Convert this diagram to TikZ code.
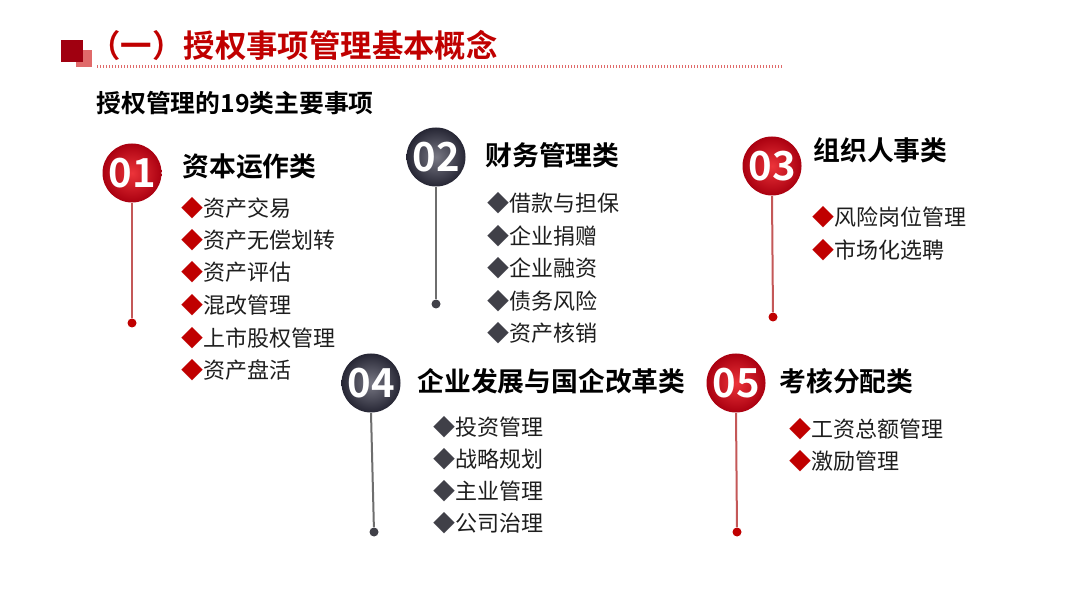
\documentclass[tikz,border=0pt]{standalone}
\usepackage{fontspec}
\setmainfont{Noto Sans CJK SC}
\newfontfamily\cjkb{Noto Sans CJK SC Bold}
\usetikzlibrary{positioning}
\definecolor{tred}{HTML}{C00000}
\definecolor{dred}{HTML}{A00010}
\definecolor{pinkr}{HTML}{E06A6A}
\definecolor{redline}{HTML}{C45858}
\definecolor{grayline}{HTML}{6E6E6E}
\definecolor{darkdot}{HTML}{404048}
\definecolor{itemtxt}{HTML}{1E1E1E}
\tikzset{
  redball/.style={circle,minimum size=29.5pt,inner sep=0pt,inner color={rgb,255:red,236;green,52;blue,58},outer color={rgb,255:red,170;green,0;blue,16},text=white,font=\cjkb\fontsize{20}{20}\selectfont},
  darkball/.style={circle,minimum size=29.5pt,inner sep=0pt,inner color={rgb,255:red,120;green,120;blue,132},outer color={rgb,255:red,38;green,38;blue,52},text=white,font=\cjkb\fontsize{20}{20}\selectfont},
  cattitle/.style={anchor=west,inner sep=0pt,font=\cjkb\fontsize{13.4}{14}\selectfont,text=black},
  itemr/.style={anchor=west,inner sep=0pt,font=\fontsize{11}{12}\selectfont,text=itemtxt},
  reddot/.style={circle,fill=tred,inner sep=0pt,minimum size=4.5pt},
  darkdotst/.style={circle,fill=darkdot,inner sep=0pt,minimum size=4.5pt},
  redstem/.style={draw=redline,line width=1pt},
  graystem/.style={draw=grayline,line width=1pt},
}
\newcommand{\ritem}[1]{\textcolor{tred}{◆}#1}
\newcommand{\gitem}[1]{\textcolor{darkdot}{◆}#1}
\begin{document}
\begin{tikzpicture}[x=0.5pt,y=-0.5pt]
\useasboundingbox (0,0) rectangle (1080,608);
\fill[white] (0,0) rectangle (1080,608);
% header icon
\fill[pinkr] (76,50) rectangle (92,67);
\fill[dred] (61,40) rectangle (83,62);
\node[anchor=west,inner sep=0pt,text=tred,font=\cjkb\fontsize{15.7}{16}\selectfont] (title) at (89,45) {（一）授权事项管理基本概念};
\draw[pinkr,line width=1.2pt,dash pattern=on 0.6pt off 0.9pt] (97,66.5) -- (783,66.5);
\node[anchor=west,inner sep=0pt,text=black,font=\cjkb\fontsize{12.4}{13}\selectfont] (sub) at (96,103) {授权管理的19类主要事项};

% 01
\node[redball] (c1) at (132,173) {01};
\node[reddot] (d1) at (132,323) {};
\draw[redstem] (c1.south) -- (d1);
\node[cattitle] (t1) at (182,166) {资本运作类};
\node[itemr] (i11) at (181,208) {\ritem{资产交易}};
\node[itemr] (i12) at (181,240) {\ritem{资产无偿划转}};
\node[itemr] (i13) at (181,272) {\ritem{资产评估}};
\node[itemr] (i14) at (181,305) {\ritem{混改管理}};
\node[itemr] (i15) at (181,338) {\ritem{上市股权管理}};
\node[itemr] (i16) at (181,370) {\ritem{资产盘活}};

% 02
\node[darkball] (c2) at (436,157) {02};
\node[darkdotst] (d2) at (436,304) {};
\draw[graystem] (c2.south) -- (d2);
\node[cattitle] (t2) at (485,155) {财务管理类};
\node[itemr] (i21) at (487,203) {\gitem{借款与担保}};
\node[itemr] (i22) at (487,236) {\gitem{企业捐赠}};
\node[itemr] (i23) at (487,268) {\gitem{企业融资}};
\node[itemr] (i24) at (487,301) {\gitem{债务风险}};
\node[itemr] (i25) at (487,333) {\gitem{资产核销}};

% 03
\node[redball] (c3) at (772,166) {03};
\node[reddot] (d3) at (773,317) {};
\draw[redstem] (c3.south) -- (d3);
\node[cattitle] (t3) at (813,150) {组织人事类};
\node[itemr] (i31) at (812,217) {\ritem{风险岗位管理}};
\node[itemr] (i32) at (812,250) {\ritem{市场化选聘}};

% 04
\node[darkball] (c4) at (371,383) {04};
\node[darkdotst] (d4) at (374,532) {};
\draw[graystem] (c4.south) -- (d4);
\node[cattitle] (t4) at (417,381) {企业发展与国企改革类};
\node[itemr] (i41) at (433,427) {\gitem{投资管理}};
\node[itemr] (i42) at (433,459) {\gitem{战略规划}};
\node[itemr] (i43) at (433,491) {\gitem{主业管理}};
\node[itemr] (i44) at (433,523) {\gitem{公司治理}};

% 05
\node[redball] (c5) at (736,383) {05};
\node[reddot] (d5) at (737,532) {};
\draw[redstem] (c5.south) -- (d5);
\node[cattitle] (t5) at (779,381) {考核分配类};
\node[itemr] (i51) at (789,429) {\ritem{工资总额管理}};
\node[itemr] (i52) at (789,461) {\ritem{激励管理}};
\end{tikzpicture}
\end{document}
